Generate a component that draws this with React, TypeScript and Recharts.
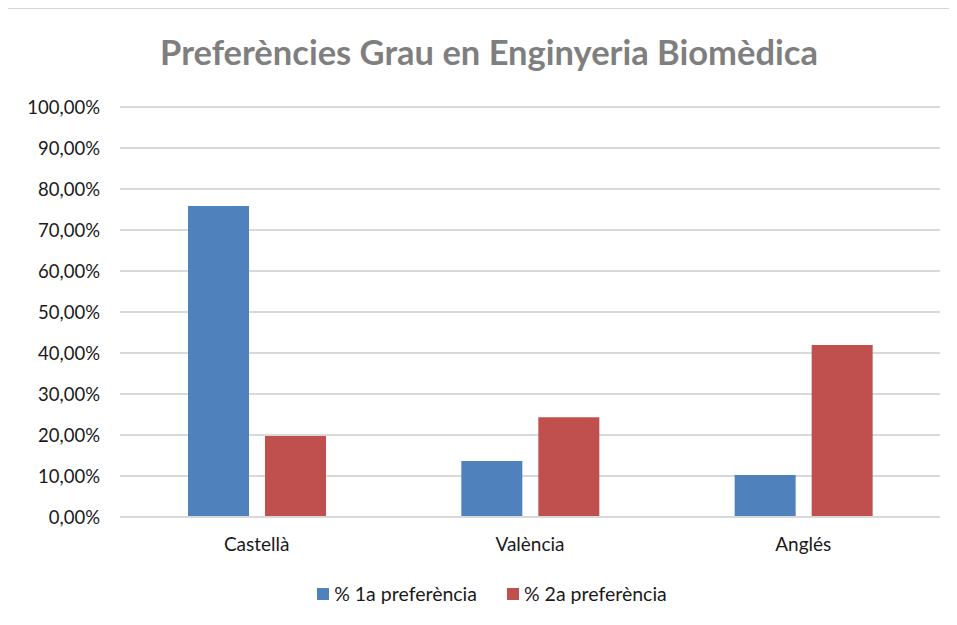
import React from "react"
import { Bar, BarChart, CartesianGrid, XAxis, YAxis } from "recharts"

const title = "Preferències Grau en Enginyeria Biomèdica"
const categories = ["Castellà", "València", "Anglés"]
const firstPref = [75.85, 13.66, 10.24]
const secondPref = [19.76, 24.3, 41.95]
const seriesNames = ["% 1a preferència", "% 2a preferència"]
const seriesColors = ["#4f81bd", "#c0504d"]
const yTicks = [0, 10, 20, 30, 40, 50, 60, 70, 80, 90, 100]

const data = categories.map((name, i) => ({ name, first: firstPref[i], second: secondPref[i] }))

const font = "Lato, 'Open Sans', sans-serif"

const pct = (v: number) => v.toFixed(2).replace(".", ",") + "%"

const App = () => (
    <div style={{ position: "relative", width: 957, height: 625, margin: -8, background: "#fff", fontFamily: font }}>
        <div style={{ position: "absolute", left: 5, top: 7, right: 0, bottom: 0, borderTop: "2px solid #d4d4d4", borderLeft: "2px solid #d4d4d4" }} />
        <div style={{ position: "absolute", left: 0, width: 978, top: 28, textAlign: "center", fontSize: 34.5, fontWeight: 700, color: "#7f7f7f", lineHeight: "48px" }}>
            {title}
        </div>
        <div style={{ position: "absolute", top: 0, left: 0 }}>
            <BarChart data={data} width={957} height={625} margin={{ top: 107, right: 17, bottom: 78, left: 0 }} barSize={61} barGap={16}>
                <CartesianGrid vertical={false} stroke="#d9d9d9" strokeWidth={2} />
                <XAxis dataKey="name" height={30} tickLine={false} axisLine={{ stroke: "#d9d9d9", strokeWidth: 2 }} tickMargin={15}
                    tick={{ fill: "#1a1a1a", fontSize: 19, fontFamily: font }} />
                <YAxis width={120} domain={[0, 100]} ticks={yTicks} tickFormatter={pct} tickLine={false} axisLine={false} tickMargin={14}
                    tick={{ fill: "#1a1a1a", fontSize: 18.5, fontFamily: font }} />
                <Bar dataKey="first" name={seriesNames[0]} fill={seriesColors[0]} isAnimationActive={false} />
                <Bar dataKey="second" name={seriesNames[1]} fill={seriesColors[1]} isAnimationActive={false} />
            </BarChart>
        </div>
        <div style={{ position: "absolute", left: 0, width: 984, top: 582, display: "flex", justifyContent: "center", gap: 30, fontSize: 19.5, color: "#1a1a1a" }}>
            {seriesNames.map((n, i) => (
                <div key={n} style={{ display: "flex", alignItems: "center", gap: 5 }}>
                    <span style={{ width: 12, height: 12, background: seriesColors[i], display: "inline-block" }} />
                    <span>{n}</span>
                </div>
            ))}
        </div>
    </div>
)

export default App
